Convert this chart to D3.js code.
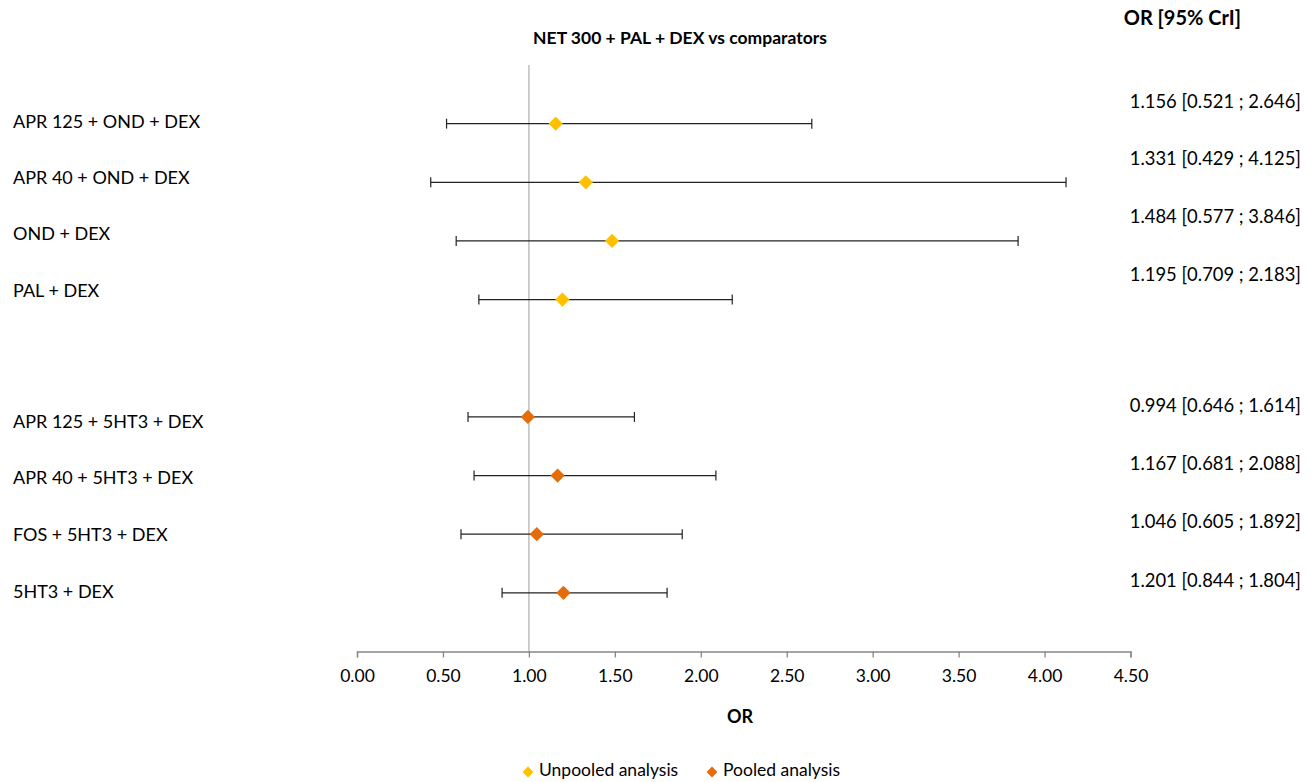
<!DOCTYPE html>
<html>
<head>
<meta charset="utf-8">
<script src="https://cdn.jsdelivr.net/npm/d3@7"></script>
<style>
  body { margin: 0; background: #fff; }
  svg text { font-family: Lato, "Open Sans", sans-serif; fill: #000; }
</style>
</head>
<body>
<div id="chart"></div>
<script>
// data
var comparators = ["APR 125 + OND + DEX", "APR 40 + OND + DEX", "OND + DEX", "PAL + DEX",
                   "APR 125 + 5HT3 + DEX", "APR 40 + 5HT3 + DEX", "FOS + 5HT3 + DEX", "5HT3 + DEX"];
var analysis = ["Unpooled", "Unpooled", "Unpooled", "Unpooled", "Pooled", "Pooled", "Pooled", "Pooled"];
var orMean = [1.156, 1.331, 1.484, 1.195, 0.994, 1.167, 1.046, 1.201];
var orLow  = [0.521, 0.429, 0.577, 0.709, 0.646, 0.681, 0.605, 0.844];
var orHigh = [2.646, 4.125, 3.846, 2.183, 1.614, 2.088, 1.892, 1.804];
var xTicks = [0, 0.5, 1, 1.5, 2, 2.5, 3, 3.5, 4, 4.5];

var width = 1312, height = 782;
var colors = {Unpooled: "#FFC000", Pooled: "#E46C0A"};

var data = comparators.map(function(c, i) {
  return {name: c, group: analysis[i], mean: orMean[i], low: orLow[i], high: orHigh[i],
          slot: i + (analysis[i] === "Pooled" ? 1 : 0)};
});

var svg = d3.select("#chart").append("svg")
  .attr("width", width)
  .attr("height", height);

var x = d3.scaleLinear().domain([0, 4.5]).range([357, 1130.5]);
var y = d3.scaleLinear().domain([0, 10]).range([65, 651.5]);
// text boxes sit a little off the marker rows in the original
var yLabel = d3.scaleLinear().domain([0, 3, 5, 8]).range([123, 292, 423, 593]);
var yValue = d3.scaleLinear().domain([0, 3, 5, 8]).range([103, 276, 407, 582]);

// reference line at OR = 1
svg.append("line")
  .attr("x1", x(1)).attr("x2", x(1))
  .attr("y1", y(0)).attr("y2", y(10))
  .attr("stroke", "#bfbfbf")
  .attr("stroke-width", 1.5);

// x axis
var axis = svg.append("g")
  .attr("transform", "translate(0," + y(10) + ")")
  .call(d3.axisBottom(x).tickValues(xTicks).tickFormat(d3.format(".2f")).tickSize(6).tickPadding(12));
axis.select(".domain").attr("stroke", "#868686").attr("stroke-width", 1.3);
axis.selectAll(".tick line").attr("stroke", "#868686").attr("stroke-width", 1.3);
axis.selectAll(".tick text")
  .style("font-size", "17.5px")
  .style("font-family", "Lato, sans-serif")
  .attr("fill", "#000");

svg.append("text")
  .attr("x", 740)
  .attr("y", 718)
  .attr("text-anchor", "middle")
  .attr("dominant-baseline", "middle")
  .style("font-size", "18px")
  .style("font-weight", "bold")
  .text("OR");

// error bars
var rows = svg.selectAll(".row")
  .data(data)
  .enter().append("g")
  .attr("class", "row");

rows.append("line")
  .attr("x1", function(d) { return x(d.low); })
  .attr("x2", function(d) { return x(d.high); })
  .attr("y1", function(d) { return y(d.slot + 1); })
  .attr("y2", function(d) { return y(d.slot + 1); })
  .attr("stroke", "#222")
  .attr("stroke-width", 1.2);

rows.selectAll(".cap")
  .data(function(d) { return [d.low, d.high].map(function(v) { return {v: v, slot: d.slot}; }); })
  .enter().append("line")
  .attr("class", "cap")
  .attr("x1", function(c) { return x(c.v); })
  .attr("x2", function(c) { return x(c.v); })
  .attr("y1", function(c) { return y(c.slot + 1) - 5; })
  .attr("y2", function(c) { return y(c.slot + 1) + 5; })
  .attr("stroke", "#222")
  .attr("stroke-width", 1.2);

rows.append("path")
  .attr("d", d3.symbol().type(d3.symbolDiamond2).size(130))
  .attr("transform", function(d) { return "translate(" + x(d.mean) + "," + y(d.slot + 1) + ")"; })
  .attr("fill", function(d) { return colors[d.group]; });

// left labels
svg.selectAll(".lbl")
  .data(data)
  .enter().append("text")
  .attr("class", "lbl")
  .attr("x", 13)
  .attr("y", function(d) { return yLabel(d.slot); })
  .attr("dominant-baseline", "middle")
  .style("font-size", "18px")
  .text(function(d) { return d.name; });

// right values
var f3 = d3.format(".3f");
svg.selectAll(".val")
  .data(data)
  .enter().append("text")
  .attr("class", "val")
  .attr("x", 1301)
  .attr("y", function(d) { return yValue(d.slot); })
  .attr("text-anchor", "end")
  .attr("dominant-baseline", "middle")
  .style("font-size", "18.4px")
  .text(function(d) { return f3(d.mean) + " [" + f3(d.low) + " ; " + f3(d.high) + "]"; });

svg.append("text")
  .attr("x", 1241)
  .attr("y", 20)
  .attr("text-anchor", "end")
  .attr("dominant-baseline", "middle")
  .style("font-size", "20px")
  .style("font-weight", "bold")
  .text("OR [95% CrI]");

// title
svg.append("text")
  .attr("x", 680)
  .attr("y", 40)
  .attr("text-anchor", "middle")
  .attr("dominant-baseline", "middle")
  .style("font-size", "17.5px")
  .style("font-weight", "bold")
  .text("NET 300 + PAL + DEX vs comparators");

// legend
var legend = [{name: "Unpooled analysis", key: "Unpooled", x: 528},
              {name: "Pooled analysis", key: "Pooled", x: 712}];
var lg = svg.selectAll(".legend")
  .data(legend)
  .enter().append("g")
  .attr("class", "legend")
  .attr("transform", function(d) { return "translate(" + d.x + ",772)"; });
lg.append("path")
  .attr("d", d3.symbol().type(d3.symbolDiamond2).size(75))
  .attr("fill", function(d) { return colors[d.key]; });
lg.append("text")
  .attr("x", 11)
  .attr("dominant-baseline", "middle")
  .style("font-size", "17.5px")
  .text(function(d) { return d.name; });
</script>
</body>
</html>
